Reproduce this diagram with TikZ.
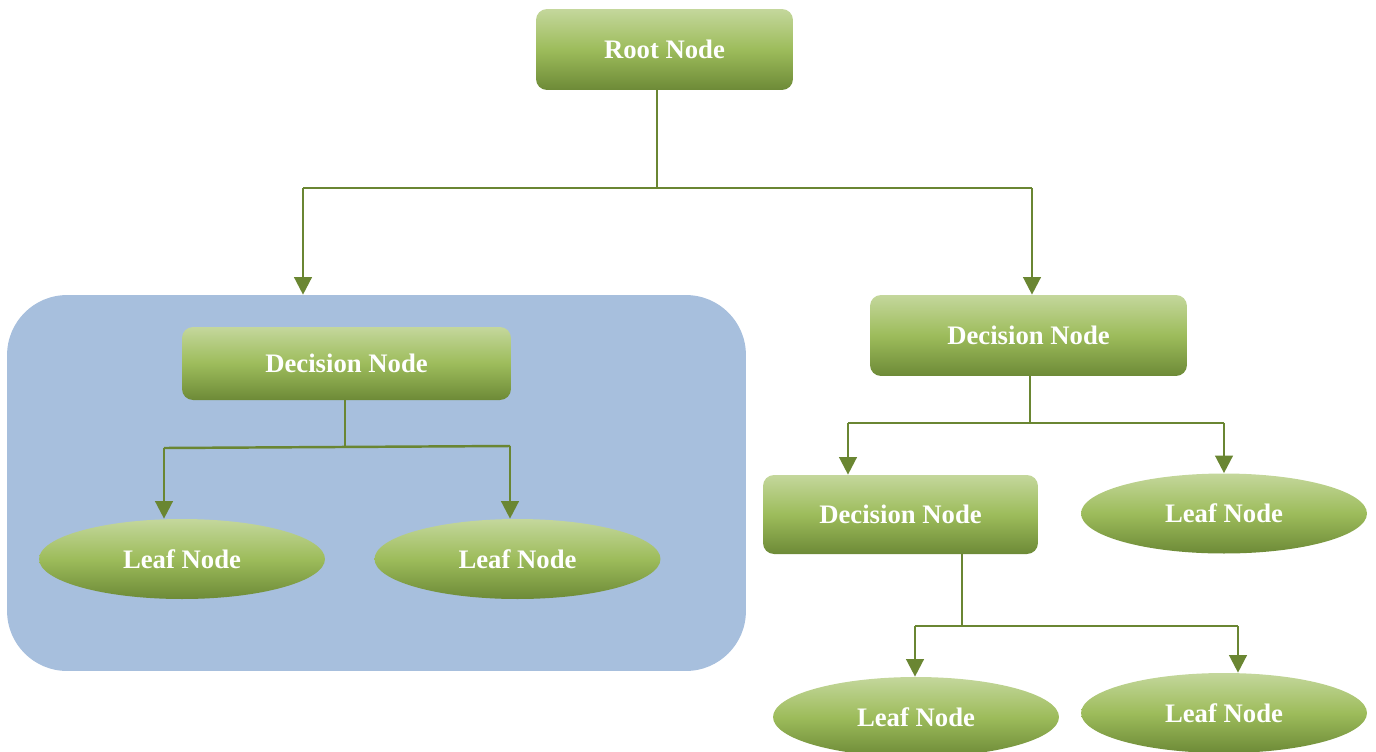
\documentclass[tikz,border=0pt]{standalone}
\usepackage{fontspec}
\setmainfont{Liberation Serif}
\usetikzlibrary{shapes.geometric,arrows.meta}
\definecolor{gtop}{HTML}{C4D79C}
\definecolor{gmid}{HTML}{9DBC5B}
\definecolor{gbot}{HTML}{6D8A37}
\definecolor{conncol}{HTML}{6A8632}
\definecolor{boxblue}{HTML}{A7BFDD}
\tikzset{
  grad/.style={top color=gtop, bottom color=gbot, middle color=gmid, draw=none,
    text=white, font=\fontsize{15.2}{18}\selectfont\bfseries, inner sep=0pt},
  decbox/.style={grad, rectangle, rounded corners=0.22cm},
  leaf/.style={grad, ellipse, minimum width=5.72cm, minimum height=1.6cm},
  conn/.style={draw=conncol, line width=1.4pt},
  arr/.style={conn, -{Triangle[length=10pt,width=10pt]}},
  bluebox/.style={fill=boxblue, draw=none, rounded corners=1.2cm, inner sep=0pt}
}
\begin{document}
\begin{tikzpicture}[x=0.02cm,y=-0.02cm]
\useasboundingbox (0,0) rectangle (1376,751);
% blue box
\node[bluebox, minimum width=14.78cm, minimum height=7.52cm] (box) at (376.5,483) {};
% nodes
\node[decbox, minimum width=5.14cm, minimum height=1.62cm] (root) at (664.5,49.5) {Root Node};
\node[decbox, minimum width=6.58cm, minimum height=1.46cm] (dec1) at (346.5,363.5) {Decision Node};
\node[decbox, minimum width=6.34cm, minimum height=1.62cm] (dec2) at (1028.5,335.5) {Decision Node};
\node[decbox, minimum width=5.5cm, minimum height=1.58cm] (dec3) at (900.5,514.5) {Decision Node};
\node[leaf] (leaf1) at (182,559) {Leaf Node};
\node[leaf] (leaf2) at (517.5,559) {Leaf Node};
\node[leaf] (leaf3) at (1224,513.5) {Leaf Node};
\node[leaf] (leaf4) at (916,717) {Leaf Node};
\node[leaf] (leaf5) at (1224,713) {Leaf Node};
% junction coordinates
\coordinate (r1) at (657,188);
\coordinate (r1l) at (303,188);
\coordinate (r1r) at (1032,188);
\coordinate (d1) at (345,447);
\coordinate (d1l) at (164,448);
\coordinate (d1r) at (510,446);
\coordinate (d2) at (1030,423);
\coordinate (d2l) at (848,423);
\coordinate (d2r) at (1224,423);
\coordinate (d3) at (962,626);
\coordinate (d3l) at (915,626);
\coordinate (d3r) at (1238,626);
% connectors from root
\draw[conn] (root.south -| r1) -- (r1);
\draw[conn] (r1l) -- (r1r);
\draw[arr] (r1l) -- (r1l |- box.north);
\draw[arr] (r1r) -- (r1r |- dec2.north);
% connectors from dec1
\draw[conn] (dec1.south -| d1) -- (d1);
\draw[conn] (d1l) -- (d1r);
\draw[arr] (d1l) -- (d1l |- leaf1.north);
\draw[arr] (d1r) -- (d1r |- leaf2.north);
% connectors from dec2
\draw[conn] (dec2.south -| d2) -- (d2);
\draw[conn] (d2l) -- (d2r);
\draw[arr] (d2l) -- (d2l |- dec3.north);
\draw[arr] (d2r) -- (d2r |- leaf3.north);
% connectors from dec3
\draw[conn] (dec3.south -| d3) -- (d3);
\draw[conn] (d3l) -- (d3r);
\draw[arr] (d3l) -- (d3l |- leaf4.north);
\draw[arr] (d3r) -- (d3r |- leaf5.north);
\end{tikzpicture}
\end{document}
